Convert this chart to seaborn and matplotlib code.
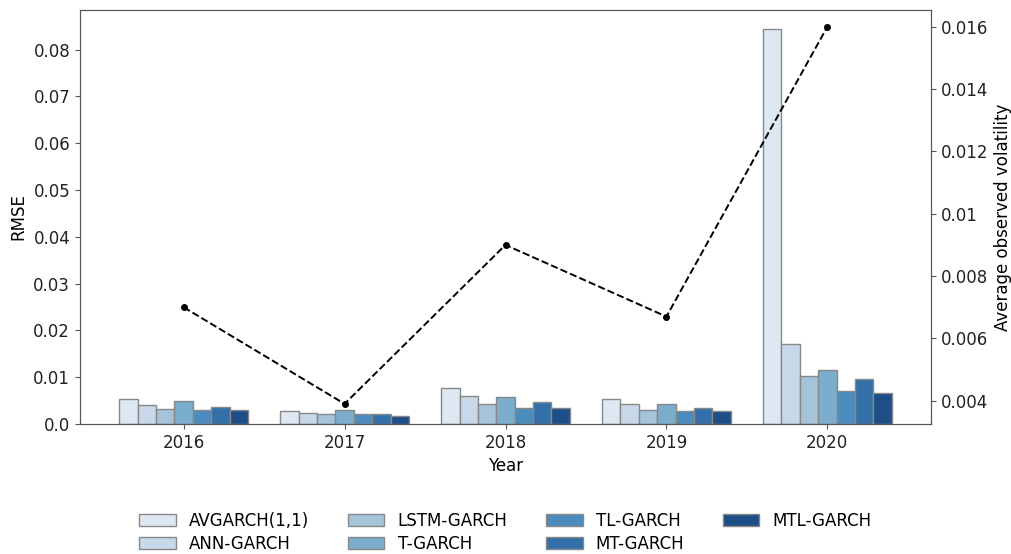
import numpy as np
import pandas as pd
import matplotlib
matplotlib.use("Agg")
import matplotlib.pyplot as plt
import seaborn as sns

# ==========================================
# Data
# ==========================================
years = ["2016", "2017", "2018", "2019", "2020"]
models = ["AVGARCH(1,1)", "ANN-GARCH", "LSTM-GARCH", "T-GARCH",
          "TL-GARCH", "MT-GARCH", "MTL-GARCH"]

rmse_avgarch = [0.0053, 0.0027, 0.0077, 0.0054, 0.0845]
rmse_ann = [0.0041, 0.0023, 0.0060, 0.0043, 0.0171]
rmse_lstm = [0.0031, 0.0020, 0.0043, 0.0030, 0.0102]
rmse_t = [0.0048, 0.0030, 0.0057, 0.0043, 0.0116]
rmse_tl = [0.0029, 0.0021, 0.0034, 0.0027, 0.0070]
rmse_mt = [0.0036, 0.0021, 0.0046, 0.0033, 0.0096]
rmse_mtl = [0.0029, 0.0016, 0.0033, 0.0027, 0.0066]

avg_volatility = [0.0070, 0.0039, 0.0090, 0.0067, 0.0160]

left_ticks = [0.0, 0.01, 0.02, 0.03, 0.04, 0.05, 0.06, 0.07, 0.08]
left_labels = ["0.0", "0.01", "0.02", "0.03", "0.04", "0.05", "0.06", "0.07", "0.08"]
right_ticks = [0.004, 0.006, 0.008, 0.010, 0.012, 0.014, 0.016]
right_labels = ["0.004", "0.006", "0.008", "0.01", "0.012", "0.014", "0.016"]

# long-form table for seaborn
series = [rmse_avgarch, rmse_ann, rmse_lstm, rmse_t, rmse_tl, rmse_mt, rmse_mtl]
rows = []
for model, vals in zip(models, series):
    for year, v in zip(years, vals):
        rows.append({"Year": year, "RMSE": v, "Model": model})
df = pd.DataFrame(rows)

colors = ["#dde8f3", "#c7d8e8", "#a5c4da", "#7badcc",
          "#4c8bbd", "#3470a8", "#1d4e88"]

plt.rcParams["font.family"] = ["DejaVu Sans"]
plt.rcParams["font.size"] = 12

fig, ax = plt.subplots(figsize=(10.11, 5.54), dpi=100)
fig.subplots_adjust(left=0.079, right=0.921, top=0.982, bottom=0.235)

sns.barplot(data=df, x="Year", y="RMSE", hue="Model", hue_order=models,
            order=years, palette=colors, edgecolor="#888888", linewidth=1,
            width=0.8, saturation=1, ax=ax)
ax.set_ylim(0, 0.0885)
ax.set_yticks(left_ticks)
ax.set_yticklabels(left_labels)
ax.set_xlabel("Year", fontsize=12)
ax.set_ylabel("RMSE", fontsize=12)

handles, labels = ax.get_legend_handles_labels()
ax.legend_.remove()

# average observed volatility on the right axis
ax2 = ax.twinx()
ax2.plot(np.arange(len(years)), avg_volatility, color="black", linestyle="--",
         marker="o", markersize=4, linewidth=1.4)
ax2.set_ylim(0.00326, 0.01654)
ax2.set_yticks(right_ticks)
ax2.set_yticklabels(right_labels)
ax2.set_ylabel("Average observed volatility", fontsize=12)
ax.set_xlim(-0.645, 4.645)

for a in (ax, ax2):
    for s in a.spines.values():
        s.set_color("#555555")
    a.tick_params(colors="#555555", labelcolor="#222222", labelsize=12)

fig.legend(handles, labels, loc="lower center", bbox_to_anchor=(0.5, -0.025),
           ncol=4, frameon=False, fontsize=12, columnspacing=2.3,
           handlelength=2.2, labelspacing=0.3)

fig.savefig("out.png", dpi=100)
